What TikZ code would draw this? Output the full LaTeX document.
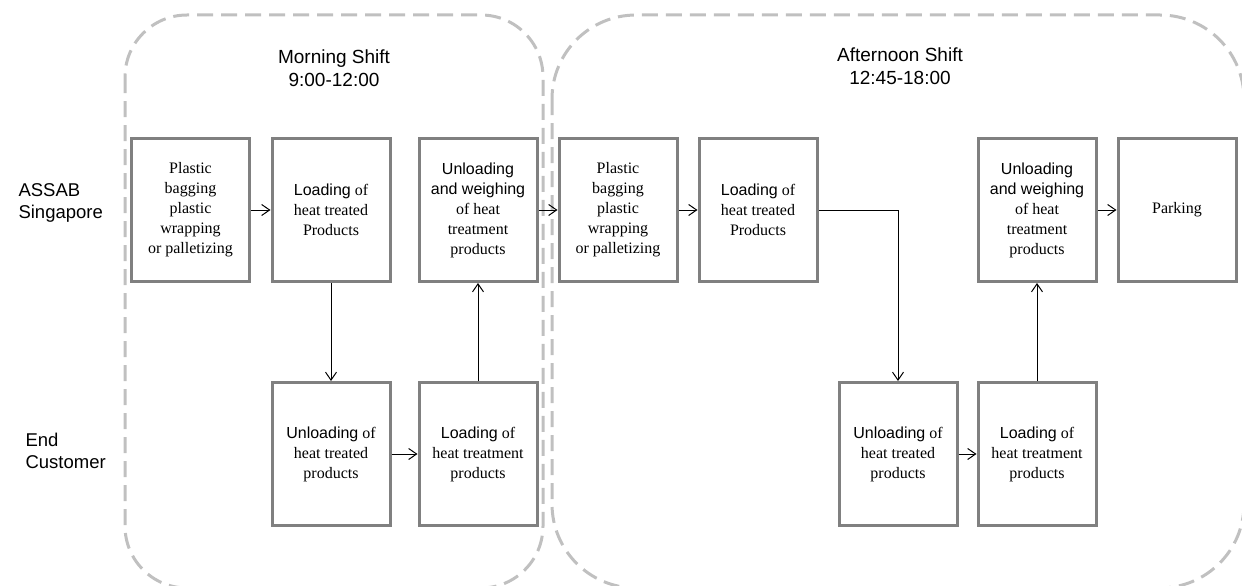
\documentclass[tikz,border=0pt]{standalone}
\usepackage{fontspec}
\setmainfont{Liberation Serif}
\setsansfont{Liberation Sans}
\usetikzlibrary{arrows.meta}
\definecolor{boxgray}{RGB}{128,128,128}
\definecolor{shiftgray}{RGB}{192,192,192}
\tikzset{
  stepbox/.style={draw=boxgray, line width=3pt, fill=white, minimum width=118pt,
    minimum height=143pt, inner sep=2pt, align=center,
    font=\fontsize{16}{20}\selectfont},
  flow/.style={draw=black, line width=1pt, -{Straight Barb[length=8pt,width=11pt,line width=1pt]}},
  shiftbox/.style={draw=shiftgray, line width=3pt, dash pattern=on 16pt off 8pt},
  shifttitle/.style={align=center, font=\sffamily\fontsize{19}{23}\selectfont},
  rowlabel/.style={anchor=west, align=left, font=\sffamily\fontsize{18.5}{22}\selectfont},
}
\begin{document}
\begin{tikzpicture}[x=1pt, y=-1pt]
\useasboundingbox (0,0) rectangle (1242,586);

% shift frames
\begin{scope}
  \clip (0,0) rectangle (1242,586);
  \draw[shiftbox, rounded corners=62pt] (125,15) rectangle (543,588);
  \draw[shiftbox, rounded corners=84pt] (552,15) rectangle (1244,588);
\end{scope}

% shift titles
\node[shifttitle] (morning) at (334,68) {Morning Shift\\9:00-12:00};
\node[shifttitle] (afternoon) at (900,66) {Afternoon Shift\\12:45-18:00};

% row labels
\node[rowlabel] (assab) at (15,203) {ASSAB\\Singapore};
\node[rowlabel] (endc) at (22,451) {End\\Customer};

% morning shift
\node[stepbox] (m1) at (190.5,210) {Plastic\\bagging\\plastic\\wrapping\\or palletizing};
\node[stepbox] (m2) at (331,210) {\textsf{Loading} of\\heat treated\\Products};
\node[stepbox] (m3) at (478,210) {\textsf{Unloading}\\\textsf{and weighing}\\of heat\\treatment\\products};
\node[stepbox] (m4) at (331,454) {\textsf{Unloading} of\\heat treated\\products};
\node[stepbox] (m5) at (478,454) {\textsf{Loading} of\\heat treatment\\products};

% afternoon shift
\node[stepbox] (a1) at (618,210) {Plastic\\bagging\\plastic\\wrapping\\or palletizing};
\node[stepbox] (a2) at (758,210) {\textsf{Loading} of\\heat treated\\Products};
\node[stepbox] (a3) at (1037,210) {\textsf{Unloading}\\\textsf{and weighing}\\of heat\\treatment\\products};
\node[stepbox] (a4) at (1177,210) {Parking};
\node[stepbox] (a5) at (898,454) {\textsf{Unloading} of\\heat treated\\products};
\node[stepbox] (a6) at (1037,454) {\textsf{Loading} of\\heat treatment\\products};

% connectors
\draw[flow] (m1.east) -- (m2.west);
\draw[flow] (m2.south) -- (m4.north);
\draw[flow] (m4.east) -- (m5.west);
\draw[flow] (m5.north) -- (m3.south);
\draw[flow] (m3.east) -- (a1.west);
\draw[flow] (a1.east) -- (a2.west);
\draw[flow] (a2.east) -| (a5.north);
\draw[flow] (a5.east) -- (a6.west);
\draw[flow] (a6.north) -- (a3.south);
\draw[flow] (a3.east) -- (a4.west);
\end{tikzpicture}
\end{document}
